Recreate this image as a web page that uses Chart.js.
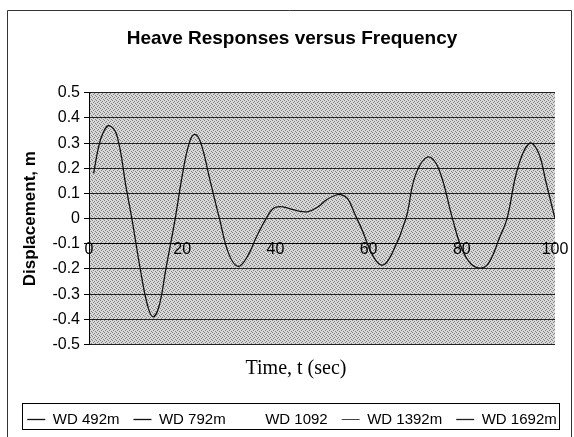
<!DOCTYPE html>
<html>
<head>
<meta charset="utf-8">
<script src="https://cdn.jsdelivr.net/npm/chart.js@4"></script>
<style>
  html, body { margin: 0; padding: 0; background: #fff; }
  #wrap { width: 574px; height: 437px; }
</style>
</head>
<body>
<div id="wrap"><canvas id="myCanvas" width="574" height="437"></canvas></div>
<script>
// heave response (time in sec, displacement in m)
const times = [1, 2, 3, 4.3, 6, 8, 9.2, 11, 12.5, 13.7, 15, 16.5, 18.5, 20, 21.5, 22.7, 24, 26, 28, 30, 32, 34, 36, 38,
  39.5, 41, 43, 45, 47, 49, 51, 53, 54, 55.5, 57, 58.5, 61, 63, 65, 68, 70, 72.7, 75, 78, 80, 82, 84.3, 86, 88, 89.7,
  92, 94.6, 96.5, 98, 100];
const heave = [0.18, 0.28, 0.34, 0.37, 0.33, 0.12, 0, -0.2, -0.34, -0.39, -0.35, -0.2, 0, 0.17, 0.3, 0.335, 0.3, 0.15, 0, -0.14, -0.19, -0.15, -0.07, 0,
  0.04, 0.048, 0.04, 0.03, 0.028, 0.045, 0.075, 0.094, 0.096, 0.08, 0.02, -0.04, -0.15, -0.185, -0.14, 0, 0.17, 0.245, 0.2, 0, -0.12, -0.18, -0.196, -0.17, -0.08, 0,
  0.2, 0.3, 0.26, 0.15, 0];

const seriesNames = ["WD 492m", "WD 792m", "WD 1092", "WD 1392m", "WD 1692m"];
const xTickLabels = ["0", "20", "40", "60", "80", "100"];
const yTickLabels = ["-0.5", "-0.4", "-0.3", "-0.2", "-0.1", "0", "0.1", "0.2", "0.3", "0.4", "0.5"];

const points = [];
for (let i = 0; i < times.length; i++) {
  points.push({ x: times[i], y: heave[i] });
}

// grey halftone look of the plot area
function makePattern(ctx) {
  const c = document.createElement("canvas");
  c.width = 4; c.height = 4;
  const p = c.getContext("2d");
  p.fillStyle = "#d8d8d8";
  p.fillRect(0, 0, 4, 4);
  p.fillStyle = "#808080";
  p.fillRect(0, 0, 1, 1);
  p.fillRect(2, 1, 1, 1);
  p.fillRect(1, 2, 1, 1);
  p.fillRect(3, 3, 1, 1);
  return ctx.createPattern(c, "repeat");
}

const frame = {
  id: "frame",
  beforeDraw(chart) {
    const { ctx, chartArea: a } = chart;
    ctx.save();
    ctx.fillStyle = makePattern(ctx);
    ctx.fillRect(a.left, a.top, a.right - a.left, a.bottom - a.top);
    ctx.restore();
  },
  afterDraw(chart) {
    const ctx = chart.ctx;
    ctx.save();
    // outer border
    ctx.strokeStyle = "#333";
    ctx.lineWidth = 1;
    ctx.beginPath();
    ctx.moveTo(7.5, 437);
    ctx.lineTo(7.5, 10.5);
    ctx.lineTo(571.5, 10.5);
    ctx.lineTo(571.5, 437);
    ctx.stroke();
    // x axis title
    ctx.fillStyle = "#000";
    ctx.font = "20px 'Liberation Serif', 'Times New Roman', serif";
    ctx.textAlign = "center";
    ctx.textBaseline = "middle";
    ctx.fillText("Time, t (sec)", 296, 369);
    // legend box
    const boxes = chart.legend.legendHitBoxes;
    if (boxes && boxes.length) {
      let l = Infinity, r = -Infinity;
      boxes.forEach(b => { l = Math.min(l, b.left); r = Math.max(r, b.left + b.width); });
      ctx.strokeStyle = "#000";
      ctx.strokeRect(Math.round(l - 5) + 0.5, 403.5, Math.round(r - l + 8), 26);
    }
    ctx.restore();
  }
};

new Chart(document.getElementById("myCanvas"), {
  type: "scatter",
  data: {
    datasets: [
      { label: seriesNames[0], data: points, xAxisID: "x", yAxisID: "y", showLine: true, borderColor: "#111", borderWidth: 1.3, pointRadius: 0, tension: 0.4 },
      { label: seriesNames[1], data: [], xAxisID: "x", yAxisID: "y", showLine: true, borderColor: "#111", borderWidth: 1.3, pointRadius: 0 },
      { label: seriesNames[2], data: [], xAxisID: "x", yAxisID: "y", showLine: true, borderColor: "#fff", borderWidth: 1.3, pointRadius: 0 },
      { label: seriesNames[3], data: [], xAxisID: "x", yAxisID: "y", showLine: true, borderColor: "#444", borderWidth: 1, borderDash: [1, 1], pointRadius: 0 },
      { label: seriesNames[4], data: [], xAxisID: "x", yAxisID: "y", showLine: true, borderColor: "#222", borderWidth: 1.3, borderDash: [6, 2], pointRadius: 0 }
    ]
  },
  options: {
    responsive: false,
    animation: false,
    layout: { padding: { left: 10, right: 0, top: 0, bottom: 0 } },
    plugins: {
      title: {
        display: true,
        text: "Heave Responses versus Frequency",
        color: "#000",
        font: { family: "'Liberation Sans', Arial, sans-serif", size: 19, weight: "bold" },
        padding: { top: 27, bottom: 43 }
      },
      legend: {
        position: "bottom",
        labels: {
          color: "#000",
          font: { family: "'Liberation Sans', Arial, sans-serif", size: 15 },
          usePointStyle: true,
          pointStyle: "line",
          pointStyleWidth: 18,
          padding: 14
        }
      },
      tooltip: { enabled: false }
    },
    scales: {
      x: {
        type: "linear",
        min: 0,
        max: 100,
        position: { y: -0.1 },
        grid: { display: false, drawTicks: false },
        border: { display: true, color: "#000", width: 1 },
        ticks: {
          stepSize: 20,
          padding: -4,
          color: "#000",
          font: { family: "'Liberation Sans', Arial, sans-serif", size: 16 },
          callback: (v, i) => xTickLabels[i]
        }
      },
      x2: {
        type: "linear",
        position: "bottom",
        display: true,
        min: 0,
        max: 1,
        grid: { display: false },
        border: { display: false },
        ticks: { display: false },
        afterFit: s => { s.height = 53.5; }
      },
      y2: {
        type: "linear",
        position: "right",
        display: true,
        min: 0,
        max: 1,
        grid: { display: false },
        border: { display: false },
        ticks: { display: false },
        afterFit: s => { s.width = 19; }
      },
      y: {
        min: -0.5,
        max: 0.5,
        afterFit: s => { s.width = 79; },
        grid: { color: "#222", lineWidth: 1, tickLength: 5, tickColor: "#000" },
        border: { display: true, color: "#000", width: 1 },
        ticks: {
          stepSize: 0.1,
          padding: 4,
          color: "#000",
          font: { family: "'Liberation Sans', Arial, sans-serif", size: 16 },
          callback: (v, i) => yTickLabels[i]
        },
        title: {
          display: true,
          text: "Displacement, m",
          color: "#000",
          font: { family: "'Liberation Sans', Arial, sans-serif", size: 17, weight: "bold" },
          padding: { top: 10, bottom: 0 }
        }
      }
    }
  },
  plugins: [frame]
});
</script>
</body>
</html>
